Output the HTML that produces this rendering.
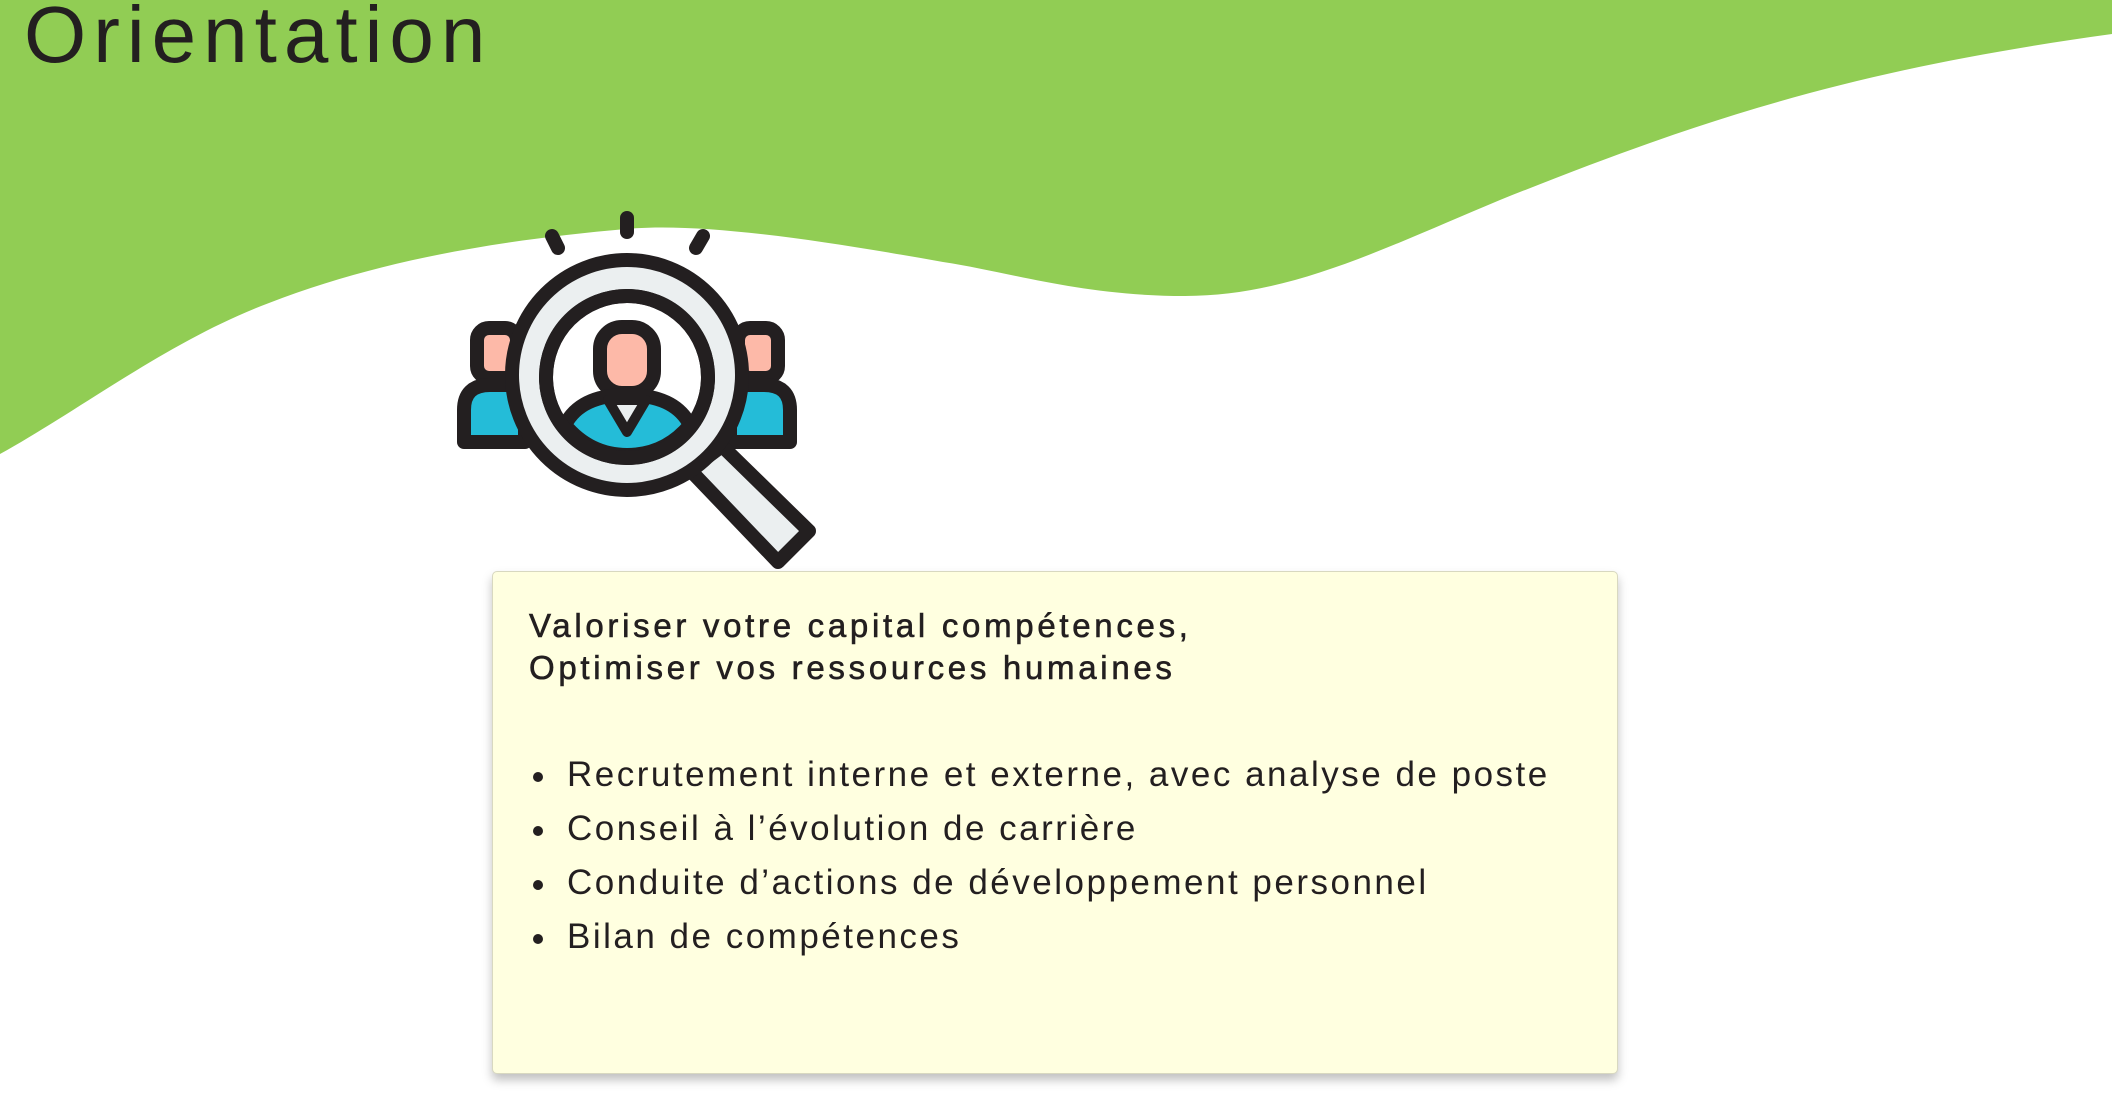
<!DOCTYPE html>
<html><head><meta charset="utf-8"><style>
html,body{margin:0;padding:0;width:2112px;height:1104px;overflow:hidden;background:#fff;font-family:"Liberation Sans",sans-serif;color:#231f20}
#wave{position:absolute;left:0;top:0}
#title{position:absolute;left:24px;top:-13px;font-size:80px;line-height:96px;margin:0;font-weight:400;letter-spacing:7px}
#icon{position:absolute;left:0;top:0}
#card{position:absolute;left:492px;top:571px;width:1124px;height:501px;background:#ffffe0;border:1px solid #d8d8c0;border-radius:5px;box-shadow:0 6px 10px rgba(0,0,0,0.25)}
.h{position:absolute;left:36px;font-size:33px;font-weight:400;white-space:nowrap;letter-spacing:3.7px;-webkit-text-stroke:0.6px #231f20}
ul{position:absolute;left:36px;top:176px;margin:0;padding:0;list-style:none}
li{font-size:35px;line-height:54px;white-space:nowrap;padding-left:38px;position:relative;letter-spacing:2.5px}
li:before{content:"";position:absolute;left:4px;top:24px;width:10px;height:10px;border-radius:50%;background:#231f20}
</style></head><body>
<svg id="wave" width="2112" height="1104">
<path d="M0,0 H2112 V34 C1850,70 1700,120 1500,200 C1380,250 1290,296 1185,296 C1080,296 1010,272 943,262 C820,240 700,222 626,229 C500,240 380,260 269,303 C170,340 80,410 0,454 Z" fill="#91cd54"/>
</svg>
<h1 id="title">Orientation</h1>
<svg id="icon" width="2112" height="1104">
<g stroke="#231f20" stroke-width="14" stroke-linecap="round" stroke-linejoin="round">
<line x1="627" y1="218" x2="627" y2="232"/>
<line x1="552" y1="236" x2="558" y2="248"/>
<line x1="703" y1="236" x2="696" y2="248"/>
<rect x="477" y="328" width="40" height="50" rx="12" fill="#fdb9a8"/>
<path d="M464,442 V410 Q464,385 490,385 H525 V442 Z" fill="#24bcd8"/>
<rect x="738" y="328" width="40" height="50" rx="12" fill="#fdb9a8"/>
<path d="M790,442 V410 Q790,385 764,385 H730 V442 Z" fill="#24bcd8"/>
<path d="M690,470 L778,562 L809,531 L722,446 Z" fill="#ebeff0"/>
<circle cx="627" cy="375" r="115" fill="#ebeff0"/>
<circle cx="627" cy="377" r="81" fill="#fff"/>
<rect x="600" y="327" width="54" height="66" rx="22" fill="#fdb9a8"/>
<path d="M565,425 Q580,395 627,395 Q675,395 690,425 Q665,455 627,455 Q590,455 565,425 Z" fill="#24bcd8"/>
<path d="M608,400 L627,432 L646,400 Z" fill="#ebeff0" stroke-width="10"/>
<circle cx="627" cy="377" r="81" fill="none"/>
</g>
</svg>
<div id="card">
<div class="h" style="top:35px">Valoriser votre capital compétences,</div>
<div class="h" style="top:77px">Optimiser vos ressources humaines</div>
<ul>
<li>Recrutement interne et externe, avec analyse de poste</li>
<li>Conseil à l’évolution de carrière</li>
<li>Conduite d’actions de développement personnel</li>
<li>Bilan de compétences</li>
</ul>
</div>
</body></html>
